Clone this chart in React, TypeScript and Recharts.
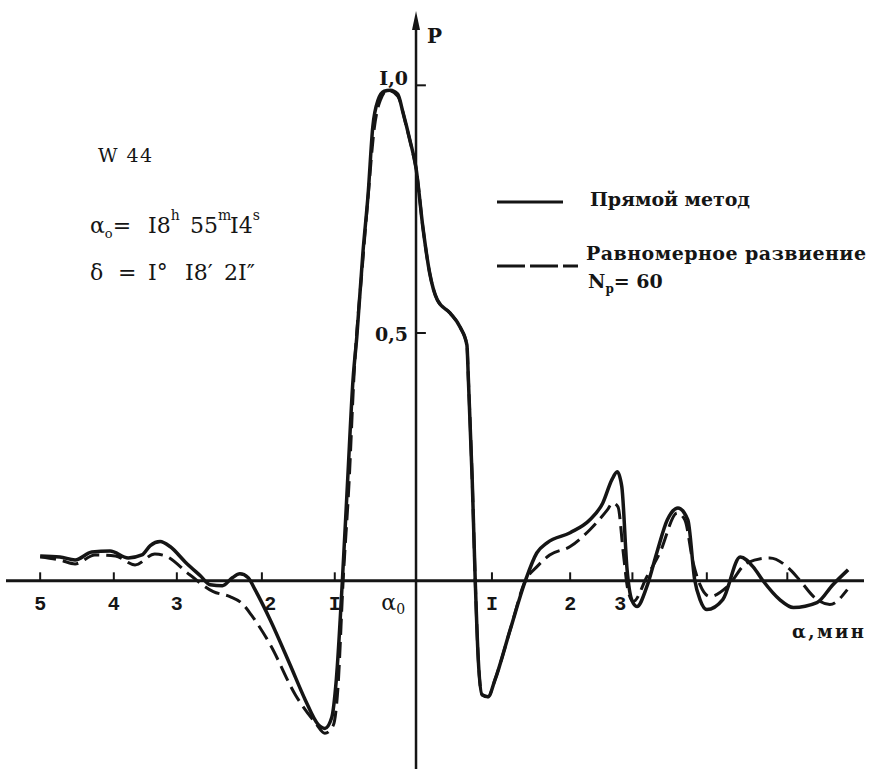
import React from 'react';
import { ComposedChart, Line, XAxis, YAxis, ReferenceLine, ReferenceDot } from 'recharts';

// Прямой метод (сплошная)
const directX = [
  -4.95, -4.69, -4.49, -4.27, -4.03, -3.79, -3.61, -3.5, -3.37, -3.24, -3.04, -2.84, -2.71, -2.55, -2.42,
  -2.32, -2.21, -2.12, -1.92, -1.66, -1.46, -1.29, -1.2, -1.11, -1.05, -0.97, -0.9, -0.83, -0.78, -0.7,
  -0.63, -0.57, -0.5, -0.42, -0.34, -0.24, -0.17, -0.08, 0.0, 0.09, 0.18, 0.28, 0.45, 0.58, 0.67, 0.69,
  0.74, 0.78, 0.82, 0.87, 0.95, 1.04, 1.24, 1.44, 1.59, 1.73, 2.03, 2.29, 2.46, 2.58, 2.65, 2.71, 2.78,
  2.84, 2.91, 3.04, 3.17, 3.31, 3.45, 3.58, 3.67, 3.74, 3.83, 4.04, 4.27, 4.44, 4.57, 4.79, 4.97, 5.28,
  5.49, 5.69,
];
const directP = [
  0.05, 0.048, 0.042, 0.058, 0.06, 0.046, 0.052, 0.071, 0.079, 0.069, 0.038, 0.01, -0.008, -0.01, 0.006,
  0.014, 0.006, -0.018, -0.079, -0.169, -0.24, -0.29, -0.298, -0.276, -0.2, 0, 0.204, 0.405, 0.492, 0.661,
  0.782, 0.915, 0.97, 0.988, 0.99, 0.982, 0.944, 0.889, 0.833, 0.714, 0.621, 0.567, 0.54, 0.512, 0.476, 0.405,
  0.204, 0, -0.159, -0.23, -0.234, -0.2, -0.099, 0, 0.056, 0.077, 0.097, 0.123, 0.157, 0.204, 0.22, 0.19, 0.022,
  -0.038, -0.052, -0.012, 0.056, 0.123, 0.147, 0.123, 0.002, -0.038, -0.058, -0.038, 0.048, 0.028, 0, -0.038, -0.054, -0.044,
  -0.008, 0.022,
];

// Равномерное развиение Np = 60 (штриховая)
const expansionX = [
  -4.95, -4.69, -4.49, -4.23, -3.96, -3.7, -3.44, -3.3, -2.98, -2.67, -2.45, -2.29, -2.16, -1.92, -1.59,
  -1.33, -1.2, -1.09, -1.03, -0.96, -0.88, -0.82, -0.7, -0.63, -0.55, -0.47, -0.37, -0.24, -0.13, -0.05,
  0.0, 0.09, 0.18, 0.28, 0.45, 0.58, 0.67, 0.69, 0.74, 0.78, 0.82, 0.87, 0.95, 1.04, 1.24, 1.44, 1.59,
  1.76, 2.03, 2.29, 2.52, 2.59, 2.66, 2.73, 2.79, 2.86, 3.04, 3.21, 3.44, 3.54, 3.65, 3.74, 3.87, 4.1,
  4.36, 4.66, 4.93, 5.06, 5.25, 5.45, 5.68,
];
const expansionP = [
  0.048, 0.042, 0.034, 0.052, 0.05, 0.032, 0.054, 0.05, 0.012, -0.022, -0.032, -0.046, -0.071, -0.129, -0.23,
  -0.286, -0.308, -0.292, -0.22, 0, 0.204, 0.405, 0.647, 0.778, 0.913, 0.97, 0.99, 0.978, 0.919, 0.869,
  0.833, 0.714, 0.621, 0.567, 0.54, 0.512, 0.476, 0.405, 0.204, 0, -0.159, -0.23, -0.234, -0.2, -0.099, 0, 0.028,
  0.052, 0.069, 0.103, 0.143, 0.157, 0.149, 0.056, -0.018, -0.042, 0.008, 0.056, 0.137, 0.123, 0.036, -0.008, -0.032, -0.012,
  0.036, 0.046, 0.022, 0, -0.034, -0.048, -0.018,
];

// hand-drawn tick marks on the α axis, and their labels
const xTicks = [-4.95, -3.98, -3.15, -2.03, -1.07, 1.0, 2.03, 2.85, 3.83, 4.89];
const xLabelPos = [-4.95, -3.98, -3.15, -1.92, -1.07, -0.3, 1.0, 2.03, 2.69];
const xLabels = ['5', '4', '3', '2', 'I', 'α0', 'I', '2', '3'];
const yTicks = [1.0, 0.5];
const yLabels = ['I,0', '0,5'];

const directData = directX.map((x, i) => ({ x, p: directP[i] }));
const expansionData = expansionX.map((x, i) => ({ x, p: expansionP[i] }));

const INK = '#151515';
const TYPE = '"Liberation Mono", "DejaVu Sans Mono", monospace';
const SERIF = '"DejaVu Serif", "Liberation Serif", serif';

const XLabel = (props: any) => {
  const { cx, cy, value } = props;
  if (value === 'α0') {
    return (
      <text x={cx} y={cy + 29} textAnchor="middle" fontFamily={SERIF} fontSize={22} fill={INK}>
        α<tspan fontSize={14} dy={4}>0</tspan>
      </text>
    );
  }
  return (
    <text x={cx} y={cy + 29} textAnchor="middle" fontFamily={TYPE} fontWeight="bold" fontSize={20} fill={INK}>
      {value}
    </text>
  );
};

const YLabel = (props: any) => {
  const { cx, cy, value, dy } = props;
  return (
    <text x={cx - 8} y={cy + dy} textAnchor="end" fontFamily={SERIF} fontWeight="bold" fontSize={19} fill={INK}>
      {value}
    </text>
  );
};

const Arrow = (props: any) => {
  const { cx, cy } = props;
  return <polygon points={`${cx},${cy - 10} ${cx - 4},${cy + 9} ${cx + 4},${cy + 9}`} fill={INK} />;
};

export default function App() {
  return (
    <div style={{ position: 'absolute', left: 0, top: 0, width: 871, height: 769, background: '#fff' }}>
      <ComposedChart width={871} height={769} margin={{ top: 11, right: 7, bottom: 0, left: 6 }}>
        <XAxis type="number" dataKey="x" domain={[-5.4, 5.9]} allowDataOverflow hide />
        <YAxis type="number" dataKey="p" domain={[-0.38, 1.15]} allowDataOverflow hide />

        <ReferenceLine y={0} stroke={INK} strokeWidth={3} />
        <ReferenceLine
          segment={[{ x: 0, y: -0.38 }, { x: 0, y: 1.12 }]}
          stroke={INK}
          strokeWidth={2.5}
        />
        <ReferenceDot x={0} y={1.13} r={0} shape={<Arrow />} />
        <ReferenceDot
          x={0}
          y={1.1}
          r={0}
          shape={(p: any) => (
            <text x={p.cx + 11} y={p.cy + 7} fontFamily={SERIF} fontWeight="bold" fontSize={20} fill={INK}>
              P
            </text>
          )}
        />

        {xTicks.map((t) => (
          <ReferenceLine key={'xt' + t} segment={[{ x: t, y: 0 }, { x: t, y: 0.017 }]} stroke={INK} strokeWidth={2} />
        ))}
        {xLabels.map((lab, i) => (
          <ReferenceDot key={'xl' + i} x={xLabelPos[i]} y={0} r={0} shape={<XLabel value={lab} />} />
        ))}
        {yTicks.map((t) => (
          <ReferenceLine key={'yt' + t} segment={[{ x: 0, y: t }, { x: 0.13, y: t }]} stroke={INK} strokeWidth={2} />
        ))}
        {yLabels.map((lab, i) => (
          <ReferenceDot key={'yl' + i} x={0} y={yTicks[i]} r={0} shape={<YLabel value={lab} dy={i === 0 ? 0 : 8} />} />
        ))}
        <ReferenceDot
          x={5.86}
          y={0}
          r={0}
          shape={(p: any) => (
            <text x={p.cx + 3} y={p.cy + 57} textAnchor="end" fontFamily={SERIF} fontWeight="bold" fontSize={18} fill={INK} textLength={72}>
              α,мин
            </text>
          )}
        />

        <Line
          data={expansionData}
          dataKey="p"
          type="monotone"
          stroke={INK}
          strokeWidth={3}
          strokeDasharray="16 7"
          dot={false}
          activeDot={false}
          isAnimationActive={false}
        />
        <Line
          data={directData}
          dataKey="p"
          type="monotone"
          stroke={INK}
          strokeWidth={3.5}
          dot={false}
          activeDot={false}
          isAnimationActive={false}
        />
      </ComposedChart>

      <svg width={871} height={769} style={{ position: 'absolute', left: 0, top: 0, pointerEvents: 'none' }}>
        <text x={98} y={162} fontFamily={SERIF} fontSize={19} fill={INK} textLength={54}>W 44</text>
        <text y={233} fontFamily={SERIF} fontSize={22} fill={INK}>
          <tspan x={90}>α</tspan>
          <tspan fontSize={13} dy={5}>o</tspan>
          <tspan dy={-5}>=</tspan>
          <tspan x={148}>I8</tspan>
          <tspan fontSize={14} dy={-13}>h</tspan>
          <tspan x={190} dy={13}>55</tspan>
          <tspan fontSize={14} dy={-13}>m</tspan>
          <tspan x={230} dy={13}>I4</tspan>
          <tspan fontSize={14} dy={-13}>s</tspan>
        </text>
        <text y={280} fontFamily={SERIF} fontSize={22} fill={INK}>
          <tspan x={90}>δ</tspan>
          <tspan x={118}>=</tspan>
          <tspan x={148}>I°</tspan>
          <tspan x={185}>I8′</tspan>
          <tspan x={224}>2I″</tspan>
        </text>

        <line x1={497} y1={202} x2={563} y2={202} stroke={INK} strokeWidth={3} />
        <text x={590} y={206} fontFamily={SERIF} fontWeight="bold" fontSize={19} fill={INK} textLength={160}>
          Прямой метод
        </text>
        <line x1={497} y1={266} x2={578} y2={266} stroke={INK} strokeWidth={3} strokeDasharray="28 5" />
        <text x={586} y={260} fontFamily={SERIF} fontWeight="bold" fontSize={19} fill={INK} textLength={280}>
          Равномерное развиение
        </text>
        <text x={588} y={288} fontFamily={SERIF} fontWeight="bold" fontSize={19} fill={INK}>
          N<tspan fontSize={12} dy={5}>p</tspan>
          <tspan dy={-5}>= 60</tspan>
        </text>
      </svg>
    </div>
  );
}
